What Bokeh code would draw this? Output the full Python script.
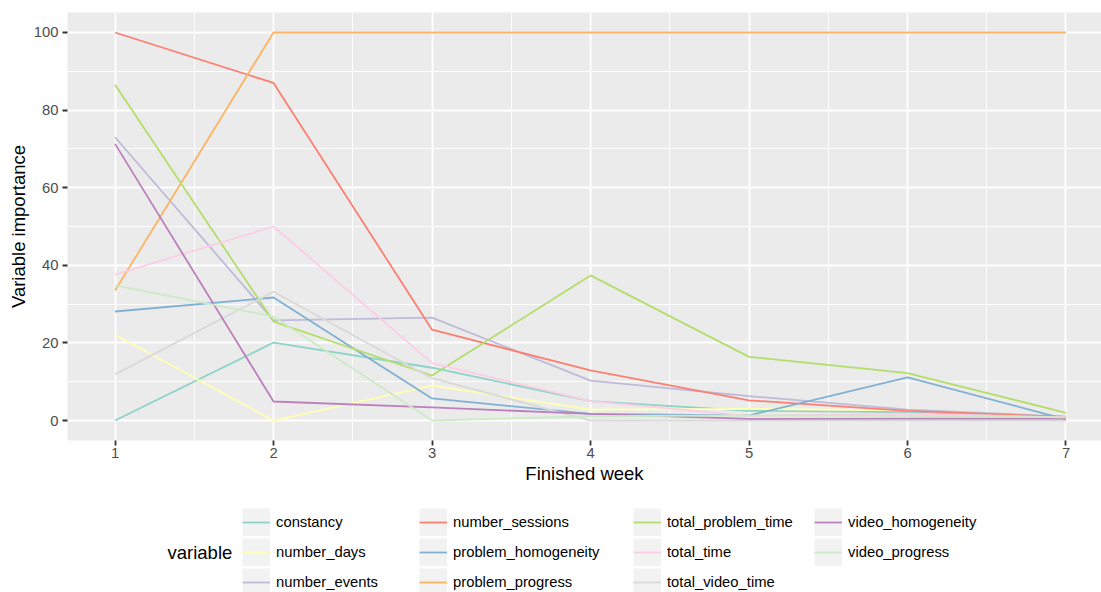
from bokeh.plotting import figure
from bokeh.models import FixedTicker, Legend, LegendItem, Label, Range1d
from bokeh.layouts import column
from bokeh.embed import file_html
from bokeh.resources import INLINE

weeks = [1, 2, 3, 4, 5, 6, 7]
variables = ["constancy", "number_days", "number_events", "number_sessions",
             "problem_homogeneity", "problem_progress", "total_problem_time",
             "total_time", "total_video_time", "video_homogeneity", "video_progress"]
colors = ["#8DD3C7", "#FFFFB3", "#BEBADA", "#FB8072", "#80B1D3", "#FDB462",
          "#B3DE69", "#FCCDE5", "#D9D9D9", "#BC80BD", "#CCEBC5"]

constancy = [0.0, 20.1, 13.6, 5.0, 2.5, 2.2, 1.0]
number_days = [22.1, 0.0, 9.0, 2.8, 3.0, 2.6, 1.0]
number_events = [73.0, 25.8, 26.5, 10.3, 6.3, 2.8, 1.0]
number_sessions = [100.0, 87.0, 23.4, 12.9, 5.2, 2.5, 0.9]
problem_homogeneity = [28.1, 31.7, 5.7, 1.7, 1.3, 11.1, 0.3]
problem_progress = [33.5, 100.0, 100.0, 100.0, 100.0, 100.0, 100.0]
total_problem_time = [86.5, 25.5, 11.6, 37.4, 16.4, 12.2, 2.0]
total_time = [37.6, 50.0, 14.8, 5.0, 1.2, 1.8, 0.8]
total_video_time = [11.9, 33.2, 10.9, 0.0, 0.0, 0.0, 0.0]
video_homogeneity = [71.3, 4.9, 3.4, 1.7, 0.4, 0.5, 0.5]
video_progress = [34.8, 26.8, 0.0, 1.1, 1.3, 1.2, 0.8]

series = [constancy, number_days, number_events, number_sessions, problem_homogeneity,
          problem_progress, total_problem_time, total_time, total_video_time,
          video_homogeneity, video_progress]

x_ticks = [1, 2, 3, 4, 5, 6, 7]
x_minor = [1.5, 2.5, 3.5, 4.5, 5.5, 6.5]
y_ticks = [0, 20, 40, 60, 80, 100]
y_minor = [10, 30, 50, 70, 90]

FONT = "Liberation Sans"
LW = 1.8

# ---- main panel ----
p = figure(width=1101, height=492, output_backend="svg", toolbar_location=None,
           x_range=Range1d(0.7, 7.224), y_range=Range1d(-5.15, 105.15),
           min_border_left=67, min_border_right=0, min_border_top=12, min_border_bottom=52)
p.outline_line_color = None
p.background_fill_color = "#EBEBEB"
p.border_fill_color = "white"

xt = FixedTicker(ticks=x_ticks, minor_ticks=x_minor)
yt = FixedTicker(ticks=y_ticks, minor_ticks=y_minor)
p.xaxis.ticker = xt
p.yaxis.ticker = yt
p.xgrid.ticker = xt
p.ygrid.ticker = yt
for g in (p.xgrid, p.ygrid):
    g.grid_line_color = "white"
    g.grid_line_width = 1.8
    g.minor_grid_line_color = "white"
    g.minor_grid_line_width = 0.9

for ax in (p.xaxis, p.yaxis):
    ax.axis_line_color = None
    ax.major_tick_line_color = "#333333"
    ax.major_tick_line_width = 1.8
    ax.major_tick_out = 5
    ax.major_tick_in = 0
    ax.minor_tick_out = 0
    ax.minor_tick_in = 0
    ax.major_label_text_font = FONT
    ax.major_label_text_font_size = "14.8px"
    ax.major_label_text_color = "#4D4D4D"
    ax.axis_label_text_font = FONT
    ax.axis_label_text_font_size = "18.5px"
    ax.axis_label_text_font_style = "normal"
    ax.axis_label_text_color = "black"

p.xaxis.major_label_standoff = 2
p.xaxis.axis_label_standoff = 2
p.yaxis.major_label_standoff = 4
p.yaxis.axis_label_standoff = 2

p.xaxis.axis_label = "Finished week"
p.yaxis.axis_label = "Variable importance"

for name, vals, col in zip(variables, series, colors):
    p.line(weeks, vals, line_color=col, line_width=LW)

# ---- legend strip (its frame is aligned with the main frame: x offset 67) ----
q = figure(width=1101, height=100, output_backend="svg", toolbar_location=None,
           x_range=Range1d(100, 101), y_range=Range1d(1000, 1001),
           x_axis_location=None, y_axis_location=None,
           min_border=0, min_border_left=0, min_border_right=0,
           min_border_top=0, min_border_bottom=0)
q.outline_line_color = None
q.grid.visible = False
q.background_fill_color = "white"
q.border_fill_color = "white"

items = []
for name, vals, col in zip(variables, series, colors):
    bg = q.line(weeks, vals, line_color="#F2F2F2", line_width=28, line_cap="butt")
    r = q.line(weeks, vals, line_color=col, line_width=LW)
    items.append(LegendItem(label=name, renderers=[bg, r]))

OFF = 67
columns = [items[0:3], items[3:6], items[6:9], items[9:11]]
col_x = [242, 419, 633, 814]
for its, cx in zip(columns, col_x):
    n = len(its)
    h = n * 28 + (n - 1) * 2
    leg = Legend(items=its, location=(cx - OFF, 100 - 16 - h), orientation="vertical",
                 glyph_width=28, glyph_height=28, label_height=28, label_width=10,
                 spacing=2, padding=0, margin=0, label_standoff=6,
                 border_line_color=None, background_fill_alpha=0,
                 label_text_font=FONT, label_text_font_size="14.8px",
                 label_text_color="black", click_policy="none")
    q.add_layout(leg, "center")

q.add_layout(Label(x=167 - OFF, y=40, x_units="screen", y_units="screen", text="variable",
                   text_font=FONT, text_font_size="18.5px", text_color="black",
                   text_baseline="middle", text_align="left"))

layout = column(p, q, spacing=0)
open("out.html", "w").write(file_html(layout, INLINE))
